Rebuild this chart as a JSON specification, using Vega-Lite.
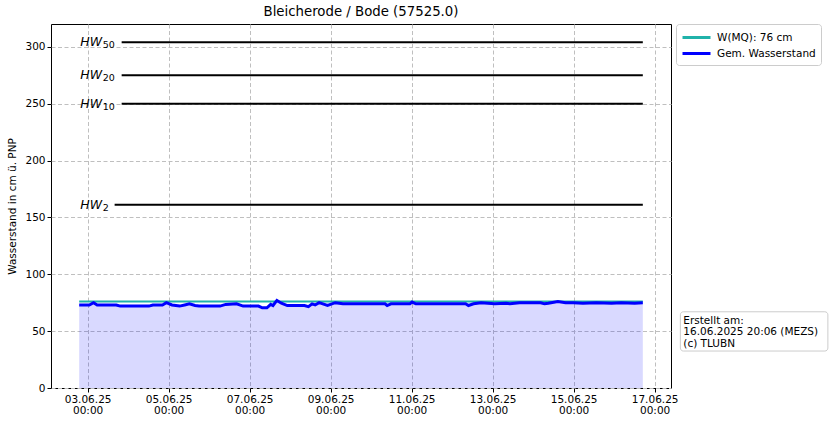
{"$schema": "https://vega.github.io/schema/vega-lite/v6.json",
"title": {"text": "Bleicherode / Bode (57525.0)", "fontSize": 13.3, "fontWeight": "normal", "font": "DejaVu Sans", "offset": 5},
"width": 620,
"height": 364,
"autosize": "none",
"padding": {"left": 51, "top": 24, "right": 163, "bottom": 38},
"datasets": {
  "pegel": [
    {"t": "2025-06-02T19:00", "v": 73}, {"t": "2025-06-03T01:00", "v": 73}, {"t": "2025-06-03T03:30", "v": 75},
    {"t": "2025-06-03T05:40", "v": 73}, {"t": "2025-06-03T17:00", "v": 73}, {"t": "2025-06-03T19:20", "v": 72},
    {"t": "2025-06-04T12:20", "v": 72}, {"t": "2025-06-04T14:40", "v": 73}, {"t": "2025-06-04T20:20", "v": 73},
    {"t": "2025-06-04T22:40", "v": 75}, {"t": "2025-06-05T02:00", "v": 73}, {"t": "2025-06-05T06:30", "v": 72},
    {"t": "2025-06-05T09:30", "v": 73}, {"t": "2025-06-05T12:20", "v": 74}, {"t": "2025-06-05T15:40", "v": 72.5},
    {"t": "2025-06-05T18:00", "v": 72}, {"t": "2025-06-06T06:30", "v": 72}, {"t": "2025-06-06T09:50", "v": 73.5},
    {"t": "2025-06-06T16:15", "v": 74}, {"t": "2025-06-06T20:10", "v": 72}, {"t": "2025-06-07T05:15", "v": 72},
    {"t": "2025-06-07T07:30", "v": 70.5}, {"t": "2025-06-07T10:15", "v": 70.5}, {"t": "2025-06-07T12:30", "v": 73.5},
    {"t": "2025-06-07T13:50", "v": 72.5}, {"t": "2025-06-07T16:10", "v": 77}, {"t": "2025-06-07T18:50", "v": 74.5},
    {"t": "2025-06-07T22:20", "v": 72.5}, {"t": "2025-06-08T08:30", "v": 72.5}, {"t": "2025-06-08T10:50", "v": 71.5},
    {"t": "2025-06-08T13:00", "v": 74}, {"t": "2025-06-08T14:50", "v": 73}, {"t": "2025-06-08T17:10", "v": 75},
    {"t": "2025-06-08T22:10", "v": 72.5}, {"t": "2025-06-09T02:45", "v": 75}, {"t": "2025-06-09T07:15", "v": 74},
    {"t": "2025-06-10T08:15", "v": 74}, {"t": "2025-06-10T09:30", "v": 72.5}, {"t": "2025-06-10T11:45", "v": 74},
    {"t": "2025-06-10T23:00", "v": 74}, {"t": "2025-06-11T00:15", "v": 75.5}, {"t": "2025-06-11T02:30", "v": 74},
    {"t": "2025-06-12T08:00", "v": 74}, {"t": "2025-06-12T09:40", "v": 72.5}, {"t": "2025-06-12T12:40", "v": 74},
    {"t": "2025-06-12T17:10", "v": 75}, {"t": "2025-06-13T01:10", "v": 74}, {"t": "2025-06-13T08:00", "v": 74.5},
    {"t": "2025-06-13T10:15", "v": 74}, {"t": "2025-06-13T15:55", "v": 75}, {"t": "2025-06-14T04:25", "v": 75},
    {"t": "2025-06-14T06:45", "v": 74}, {"t": "2025-06-14T09:00", "v": 74.5}, {"t": "2025-06-14T14:40", "v": 76},
    {"t": "2025-06-14T19:15", "v": 75}, {"t": "2025-06-14T23:45", "v": 75}, {"t": "2025-06-15T05:30", "v": 74.5},
    {"t": "2025-06-15T13:25", "v": 75}, {"t": "2025-06-15T22:30", "v": 74.5}, {"t": "2025-06-16T04:10", "v": 75},
    {"t": "2025-06-16T12:10", "v": 74.5}, {"t": "2025-06-16T17:00", "v": 75}
  ],
  "hw": [
    {"sub": "50", "v": 304, "start": "2025-06-03T20:10", "end": "2025-06-16T17:00", "lx": "2025-06-02T19:40"},
    {"sub": "20", "v": 275, "start": "2025-06-03T20:10", "end": "2025-06-16T17:00", "lx": "2025-06-02T19:40"},
    {"sub": "10", "v": 250, "start": "2025-06-03T20:10", "end": "2025-06-16T17:00", "lx": "2025-06-02T19:40"},
    {"sub": "2", "v": 161, "start": "2025-06-03T16:00", "end": "2025-06-16T17:00", "lx": "2025-06-02T19:40"}
  ],
  "mq": [
    {"serie": "W(MQ): 76 cm", "v": 76, "start": "2025-06-02T19:00", "end": "2025-06-16T17:00"}
  ],
  "note": [
    {"text": "Erstellt am:\n16.06.2025 20:06 (MEZS)\n(c) TLUBN", "tx": "2025-06-17T17:00", "ty": 59.2,
     "x1": "2025-06-17T15:15", "x2": "2025-06-21T06:40", "y1": 32.5, "y2": 67}
  ]
},
"layer": [
  {
    "data": {"name": "pegel"},
    "mark": {"type": "area", "color": "#0000ff", "opacity": 0.15},
    "encoding": {
      "x": {"field": "t", "type": "temporal",
        "scale": {"domain": [{"year": 2025, "month": 6, "date": 2, "hours": 2, "minutes": 18}, {"year": 2025, "month": 6, "date": 17, "hours": 9, "minutes": 42}]},
        "axis": {
          "title": null,
          "values": [
            {"year": 2025, "month": 6, "date": 3}, {"year": 2025, "month": 6, "date": 5}, {"year": 2025, "month": 6, "date": 7},
            {"year": 2025, "month": 6, "date": 9}, {"year": 2025, "month": 6, "date": 11}, {"year": 2025, "month": 6, "date": 13},
            {"year": 2025, "month": 6, "date": 15}, {"year": 2025, "month": 6, "date": 17}
          ],
          "labelExpr": "[timeFormat(datum.value, '%d.%m.%y'), timeFormat(datum.value, '%H:%M')]",
          "labelLineHeight": 11.5
        }},
      "y": {"field": "v", "type": "quantitative",
        "scale": {"domain": [0, 320], "nice": false},
        "axis": {"title": "Wasserstand in cm ü. PNP", "values": [0, 50, 100, 150, 200, 250, 300], "titlePadding": 7}}
    }
  },
  {
    "data": {"name": "mq"},
    "mark": {"type": "rule", "strokeWidth": 2},
    "encoding": {
      "x": {"field": "start", "type": "temporal"},
      "x2": {"field": "end"},
      "y": {"field": "v", "type": "quantitative"},
      "color": {"field": "serie", "type": "nominal",
        "scale": {"domain": ["W(MQ): 76 cm", "Gem. Wasserstand"], "range": ["#20b2aa", "#0000ff"]},
        "legend": {"title": null, "orient": "right", "offset": 5, "padding": 5, "strokeColor": "#cccccc",
          "fillColor": "white", "cornerRadius": 3, "symbolType": "M-1,0H3", "symbolStrokeWidth": 3,
          "symbolSize": 196, "labelOffset": 19, "labelFontSize": 10.5, "labelFont": "DejaVu Sans",
          "labelColor": "black", "rowPadding": 1}}
    }
  },
  {
    "data": {"name": "pegel"},
    "transform": [{"calculate": "'Gem. Wasserstand'", "as": "serie"}],
    "mark": {"type": "line", "strokeWidth": 3},
    "encoding": {
      "x": {"field": "t", "type": "temporal"},
      "y": {"field": "v", "type": "quantitative"},
      "color": {"field": "serie", "type": "nominal"}
    }
  },
  {
    "data": {"name": "hw"},
    "mark": {"type": "rule", "color": "black", "strokeWidth": 2},
    "encoding": {
      "x": {"field": "start", "type": "temporal"},
      "x2": {"field": "end"},
      "y": {"field": "v", "type": "quantitative"}
    }
  },
  {
    "data": {"name": "hw"},
    "mark": {"type": "text", "text": "HW", "align": "left", "baseline": "middle", "fontSize": 12.5, "fontStyle": "italic", "font": "DejaVu Sans", "color": "black"},
    "encoding": {
      "x": {"field": "lx", "type": "temporal"},
      "y": {"field": "v", "type": "quantitative"}
    }
  },
  {
    "data": {"name": "hw"},
    "mark": {"type": "text", "align": "left", "baseline": "middle", "dx": 22.5, "dy": 3, "fontSize": 9.5, "font": "DejaVu Sans", "color": "black"},
    "encoding": {
      "x": {"field": "lx", "type": "temporal"},
      "y": {"field": "v", "type": "quantitative"},
      "text": {"field": "sub"}
    }
  },
  {
    "data": {"name": "note"},
    "mark": {"type": "rect", "fill": "white", "stroke": "#cccccc", "cornerRadius": 3, "clip": false},
    "encoding": {
      "x": {"field": "x1", "type": "temporal"},
      "x2": {"field": "x2"},
      "y": {"field": "y1", "type": "quantitative"},
      "y2": {"field": "y2"}
    }
  },
  {
    "data": {"name": "note"},
    "mark": {"type": "text", "align": "left", "baseline": "middle", "fontSize": 10.5, "font": "DejaVu Sans", "lineBreak": "\n", "lineHeight": 11.5, "clip": false, "color": "black"},
    "encoding": {
      "x": {"field": "tx", "type": "temporal"},
      "y": {"field": "ty", "type": "quantitative"},
      "text": {"field": "text"}
    }
  }
],
"config": {
  "font": "DejaVu Sans",
  "view": {"stroke": "black", "strokeWidth": 1},
  "axis": {
    "domain": false,
    "tickColor": "black", "tickSize": 4,
    "labelFontSize": 10.5, "labelColor": "black", "labelFont": "DejaVu Sans",
    "titleFontSize": 10.5, "titleFontWeight": "normal", "titleColor": "black", "titleFont": "DejaVu Sans",
    "gridColor": "#bfbfbf", "gridDash": [4, 2.5], "gridWidth": 1
  }
}
}
